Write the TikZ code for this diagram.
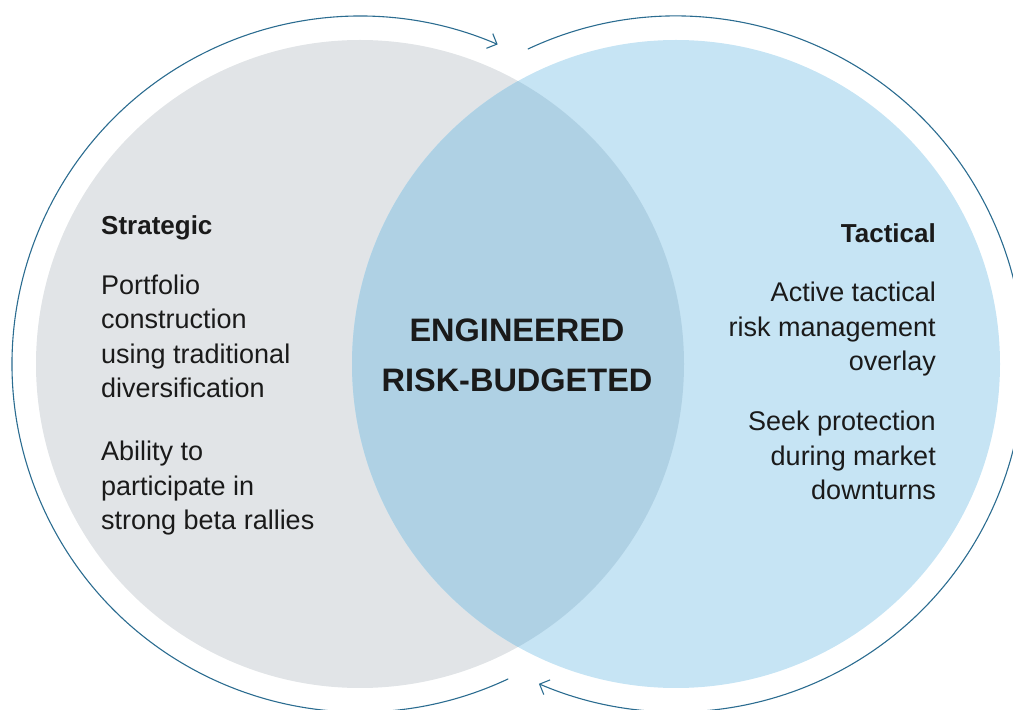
\documentclass[tikz,border=0pt]{standalone}
\usepackage{fontspec}
\setmainfont{Liberation Sans}
\usetikzlibrary{arrows.meta}
\pgfdeclarelayer{nodelayer}
\pgfdeclarelayer{edgelayer}
\pgfsetlayers{nodelayer,edgelayer,main}
\definecolor{greyfill}{HTML}{E1E4E7}
\definecolor{bluefill}{HTML}{C6E4F4}
\definecolor{overlapfill}{HTML}{AFD1E4}
\definecolor{cycleline}{HTML}{2B6C90}
\definecolor{inktext}{HTML}{1A1A1A}
\tikzstyle{grey circle}=[fill=greyfill, draw=none, shape=circle, minimum size=648pt, inner sep=0]
\tikzstyle{blue circle}=[fill=bluefill, draw=none, shape=circle, minimum size=648pt, inner sep=0]
\tikzstyle{heading}=[text=inktext, inner sep=0, font=\bfseries\fontsize{26}{34}\selectfont]
\tikzstyle{body}=[text=inktext, inner sep=0, font=\fontsize{27}{34.5}\selectfont]
\tikzstyle{centre text}=[text=inktext, inner sep=0, align=center, font=\bfseries\fontsize{32.5}{50}\selectfont]
\tikzstyle{cycle edge}=[draw=cycleline, line width=1.1pt, -{Straight Barb[length=8pt, width=16pt]}]

\begin{document}
\begin{tikzpicture}[x=1pt, y=1pt]
	\useasboundingbox (0, 0) rectangle (1013, 710);
	\begin{pgfonlayer}{nodelayer}
		\node [style=grey circle] (0) at (360, 346) {};
		\node [style=blue circle] (1) at (676, 346) {};
		\begin{scope}
			\clip (360, 346) circle (324);
			\fill [overlapfill] (676, 346) circle (324);
		\end{scope}
	\end{pgfonlayer}
	% base anchor of a multi-line node sits on its last line
	\node [style=heading, anchor=base west] (2) at (101, 475) {Strategic};
	\node [style=body, anchor=base west, align=left] (3) at (101, 312) {Portfolio\\construction\\using traditional\\diversification};
	\node [style=body, anchor=base west, align=left] (4) at (101, 180) {Ability to\\participate in\\strong beta rallies};
	\node [style=heading, anchor=base east] (5) at (936, 467) {Tactical};
	\node [style=body, anchor=base east, align=right] (6) at (936, 339) {Active tactical\\risk management\\overlay};
	\node [style=body, anchor=base east, align=right] (7) at (936, 210) {Seek protection\\during market\\downturns};
	\node [style=centre text, anchor=base] (8) at (517, 318) {ENGINEERED\\RISK-BUDGETED};
	\coordinate (9) at (508.2, 31.1);
	\coordinate (10) at (527.8, 660.9);
	\begin{pgfonlayer}{edgelayer}
		\draw [style=cycle edge] (9) arc [start angle=295.2, end angle=66.7, radius=348];
		\draw [style=cycle edge] (10) arc [start angle=115.2, end angle=-113.2, radius=348];
	\end{pgfonlayer}
\end{tikzpicture}
\end{document}
